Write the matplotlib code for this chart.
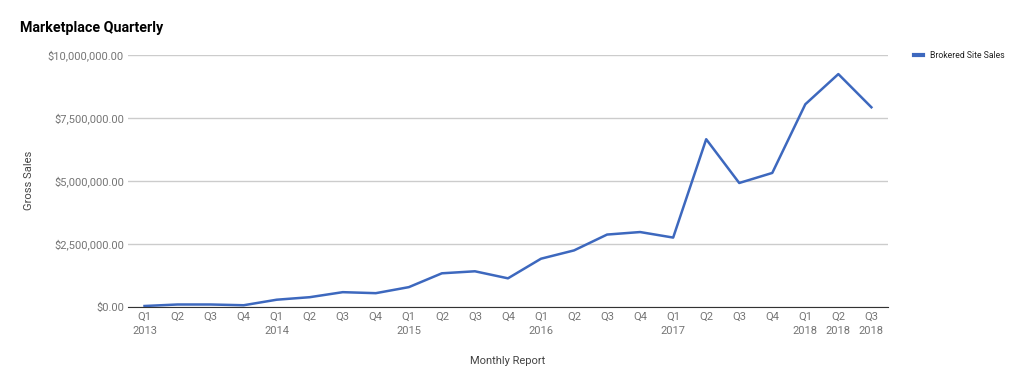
import matplotlib.pyplot as plt
from matplotlib.ticker import FuncFormatter

plt.rcParams['font.family'] = ['Roboto', 'DejaVu Sans']

# quarterly data
quarters = ['Q1\n2013', 'Q2', 'Q3', 'Q4',
            'Q1\n2014', 'Q2', 'Q3', 'Q4',
            'Q1\n2015', 'Q2', 'Q3', 'Q4',
            'Q1\n2016', 'Q2', 'Q3', 'Q4',
            'Q1\n2017', 'Q2', 'Q3', 'Q4',
            'Q1\n2018', 'Q2\n2018', 'Q3\n2018']
sales = [20000, 80000, 80000, 50000,
         270000, 370000, 570000, 530000,
         770000, 1320000, 1400000, 1120000,
         1900000, 2230000, 2860000, 2960000,
         2740000, 6650000, 4910000, 5310000,
         8040000, 9240000, 7920000]
yticks = [0, 2500000, 5000000, 7500000, 10000000]

fig = plt.figure(figsize=(10.2, 3.87), dpi=100)
ax = fig.add_axes([0.1255, 0.208, 0.745, 0.650])

x = list(range(len(sales)))
ax.plot(x, sales, color='#3d68be', lw=1.8, label='Brokered Site Sales')

ax.set_xlim(-0.5, len(sales) - 0.5)
ax.set_ylim(0, 10000000)
ax.set_yticks(yticks)
ax.yaxis.set_major_formatter(FuncFormatter(lambda v, p: f'${v:,.2f}'))
ax.set_xticks(x)
ax.set_xticklabels(quarters, linespacing=1.5)

ax.grid(axis='y', color='#cccccc', lw=1)
ax.set_axisbelow(True)
for s in ['top', 'right', 'left']:
    ax.spines[s].set_visible(False)
ax.spines['bottom'].set_color('#333333')
ax.tick_params(axis='both', length=0, labelsize=8, colors='#757575')
ax.tick_params(axis='y', pad=3)
ax.tick_params(axis='x', pad=4)

ax.set_xlabel('Monthly Report', fontsize=8, color='#444444', labelpad=14)
ax.set_ylabel('Gross Sales', fontsize=8, color='#444444', labelpad=10)

fig.text(0.02, 0.927, 'Marketplace Quarterly', fontsize=10.3, fontweight='bold',
         color='#000000', va='center')

leg = ax.legend(loc='upper left', bbox_to_anchor=(1.024, 1.045), frameon=False,
                fontsize=6.2, handlelength=1.0, handletextpad=0.9)
for t in leg.get_texts():
    t.set_color('#222222')
for h in leg.get_lines():
    h.set_linewidth(3)

fig.savefig('out.png', dpi=100)
